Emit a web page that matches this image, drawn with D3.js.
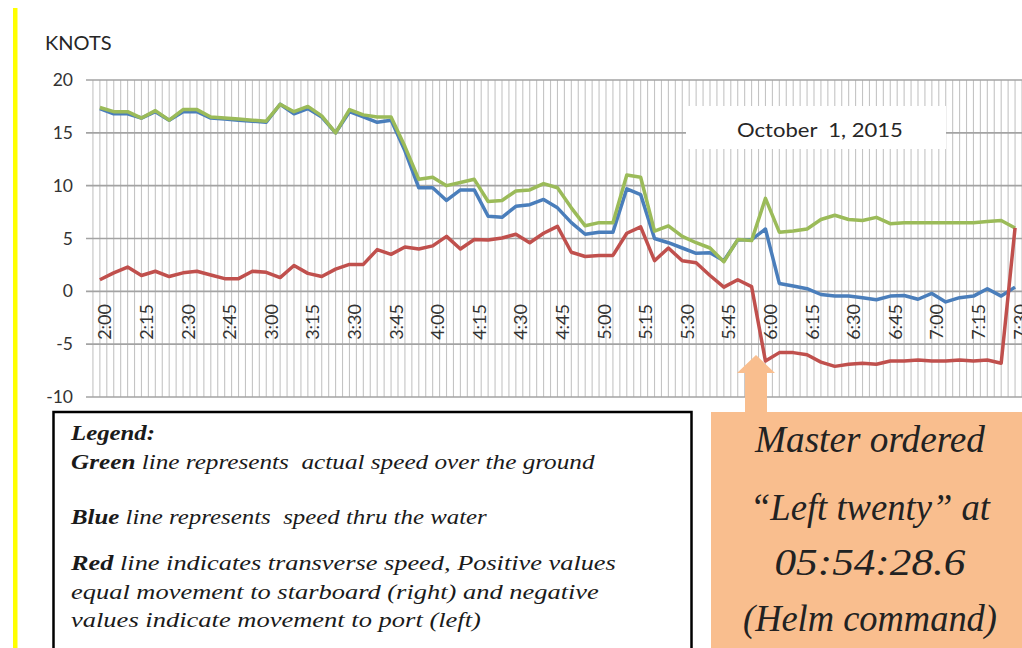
<!DOCTYPE html>
<html>
<head>
<meta charset="utf-8">
<script src="https://cdn.jsdelivr.net/npm/d3@7"></script>
<style>
  body { margin: 0; background: #fff; }
  svg { display: block; }
</style>
</head>
<body>
<div id="chart"></div>
<script>
// speed log chart, values read every 5 minutes

var times = ["2:00","2:05","2:10","2:15","2:20","2:25","2:30","2:35","2:40","2:45","2:50","2:55",
  "3:00","3:05","3:10","3:15","3:20","3:25","3:30","3:35","3:40","3:45","3:50","3:55",
  "4:00","4:05","4:10","4:15","4:20","4:25","4:30","4:35","4:40","4:45","4:50","4:55",
  "5:00","5:05","5:10","5:15","5:20","5:25","5:30","5:35","5:40","5:45","5:50","5:55",
  "6:00","6:05","6:10","6:15","6:20","6:25","6:30","6:35","6:40","6:45","6:50","6:55",
  "7:00","7:05","7:10","7:15","7:20","7:25","7:30"];

// speed over ground
var green = [17.4,17.0,17.0,16.4,17.1,16.2,17.2,17.2,16.5,16.4,
  16.3,16.2,16.1,17.7,17.0,17.5,16.6,15.0,17.2,16.7,
  16.5,16.5,13.7,10.6,10.8,10.0,10.3,10.6,8.5,8.6,
  9.5,9.6,10.2,9.8,7.9,6.2,6.5,6.5,11.0,10.8,
  5.7,6.2,5.2,4.6,4.1,2.8,4.9,4.8,8.8,5.6,
  5.7,5.9,6.8,7.2,6.8,6.7,7.0,6.4,6.5,6.5,
  6.5,6.5,6.5,6.5,6.6,6.7,6.0];

// speed thru water
var blue = [17.3,16.8,16.8,16.4,17.0,16.2,17.0,17.0,16.4,16.3,
  16.2,16.1,16.0,17.7,16.8,17.3,16.5,15.0,17.0,16.5,
  16.0,16.2,13.3,9.8,9.8,8.6,9.6,9.6,7.1,7.0,
  8.05,8.2,8.7,7.9,6.5,5.4,5.6,5.6,9.7,9.15,
  5.0,4.6,4.1,3.6,3.65,2.9,4.85,4.9,5.9,0.75,
  0.5,0.25,-0.3,-0.45,-0.45,-0.6,-0.8,-0.45,-0.4,-0.75,
  -0.2,-1.0,-0.6,-0.45,0.25,-0.45,0.4];

// transverse speed
var red = [1.1,1.75,2.3,1.5,1.9,1.4,1.75,1.9,1.55,1.2,
  1.2,1.9,1.8,1.3,2.45,1.7,1.4,2.1,2.55,2.55,
  3.95,3.5,4.2,4.0,4.3,5.2,4.0,4.9,4.85,5.05,
  5.4,4.6,5.5,6.15,3.7,3.3,3.4,3.4,5.5,6.1,
  2.9,4.1,2.9,2.7,1.5,0.4,1.1,0.45,-6.6,-5.8,
  -5.8,-6.0,-6.7,-7.1,-6.9,-6.8,-6.9,-6.6,-6.6,-6.5,
  -6.6,-6.6,-6.5,-6.6,-6.5,-6.8,6.0];

var yTicks = [-10, -5, 0, 5, 10, 15, 20];
var tickLabels = ["2:00","2:15","2:30","2:45","3:00","3:15","3:30","3:45","4:00","4:15","4:30","4:45",
  "5:00","5:15","5:30","5:45","6:00","6:15","6:30","6:45","7:00","7:15","7:30"];

var legendLines = [
  {bold: "Legend:", rest: "", y: 440, w: 84},
  {bold: "Green", rest: " line represents  actual speed over the ground", y: 469, w: 524},
  {bold: "Blue", rest: " line represents  speed thru the water", y: 524, w: 416},
  {bold: "Red", rest: " line indicates transverse speed, Positive values", y: 570, w: 545},
  {bold: "", rest: "equal movement to starboard (right) and negative", y: 599, w: 528},
  {bold: "", rest: "values indicate movement to port (left)", y: 627, w: 410}
];
var noteLines = [
  {t: "Master ordered", y: 452, w: 230},
  {t: "\u201CLeft twenty\u201D at", y: 520, w: 240},
  {t: "05:54:28.6", y: 575, w: 191},
  {t: "(Helm command)", y: 631, w: 254}
];

var width = 1022, height = 648;
var serif = "'Liberation Serif', Tinos, 'Times New Roman', serif";

function toMin(t) {
  var p = t.split(":");
  return (+p[0] - 2) * 60 + (+p[1]);
}

var svg = d3.select("#chart").append("svg")
    .attr("width", width)
    .attr("height", height);

// x in minutes after 2:00
var x = d3.scaleLinear()
    .domain([-5, 335])
    .range([86, 86 + 340 * 2.7733]);

var y = d3.scaleLinear()
    .domain([-10, 20])
    .range([397, 80]);

// yellow margin bar
svg.append("rect")
    .attr("x", 13).attr("y", 8)
    .attr("width", 4.5).attr("height", 640)
    .attr("fill", "#ffff00");

// vertical gridlines every 2.5 min
var vGrid = d3.range(-2.5, 336, 2.5);
svg.append("g")
  .selectAll("line")
  .data(vGrid)
  .enter().append("line")
    .attr("x1", function(d) { return x(d); })
    .attr("x2", function(d) { return x(d); })
    .attr("y1", y(20)).attr("y2", y(-10))
    .attr("stroke", "#c4c4c4")
    .attr("stroke-width", 1.1);

svg.append("g")
  .selectAll("line")
  .data(yTicks)
  .enter().append("line")
    .attr("x1", 86).attr("x2", width)
    .attr("y1", function(d) { return y(d); })
    .attr("y2", function(d) { return y(d); })
    .attr("stroke", "#a3a3a3")
    .attr("stroke-width", 1.6);

// y axis labels
var yAxis = svg.append("g")
    .attr("transform", "translate(86,0)")
    .call(d3.axisLeft(y).tickValues(yTicks).tickSize(0).tickPadding(13)
      .tickFormat(function(d) { return String(d); }));
yAxis.select(".domain").remove();
yAxis.selectAll("text")
    .attr("fill", "#333")
    .style("font-family", "Lato, 'Open Sans', sans-serif")
    .style("font-size", "17.5px");

svg.append("text")
    .attr("x", 45).attr("y", 50)
    .attr("fill", "#262626")
    .style("font-family", "Lato, 'Open Sans', sans-serif")
    .style("font-size", "20px")
    .text("KNOTS");

// rotated time labels below the zero line
svg.append("g")
  .selectAll("text")
  .data(tickLabels)
  .enter().append("text")
    .attr("transform", function(d) { return "translate(" + (x(toMin(d)) + 5) + "," + 304 + ") rotate(-90)"; })
    .attr("text-anchor", "end")
    .attr("dy", "0.36em")
    .attr("fill", "#333")
    .style("font-family", "Lato, 'Open Sans', sans-serif")
    .style("font-size", "18px")
    .text(function(d) { return d; });

// date label box
svg.append("rect")
    .attr("x", 686).attr("y", 106)
    .attr("width", 260).attr("height", 43)
    .attr("fill", "#fff");
var dateText = svg.append("text")
    .attr("xml:space", "preserve")
    .style("white-space", "pre")
    .attr("fill", "#262626")
    .style("font-family", "Lato, 'Open Sans', sans-serif")
    .style("font-size", "19.5px")
    .text("October  1, 2015");
fitText(dateText, 737, 137, 166);

// series lines
var line = d3.line()
    .x(function(d, i) { return x(toMin(times[i])); })
    .y(function(d) { return y(d); });

var series = [
  {values: blue, color: "#4a7ebb"},
  {values: green, color: "#9bbb59"},
  {values: red, color: "#c0504d"}
];
svg.append("g")
  .selectAll("path")
  .data(series)
  .enter().append("path")
    .attr("d", function(d) { return line(d.values); })
    .attr("fill", "none")
    .attr("stroke", function(d) { return d.color; })
    .attr("stroke-width", 3.5)
    .attr("stroke-linejoin", "round");

// legend box
svg.append("rect")
    .attr("x", 53.5).attr("y", 412)
    .attr("width", 638).attr("height", 260)
    .attr("fill", "#fff")
    .attr("stroke", "#000")
    .attr("stroke-width", 2.5);

legendLines.forEach(function(l) {
  var t = svg.append("text")
      .attr("xml:space", "preserve")
      .style("white-space", "pre")
      .attr("fill", "#1a1a1a")
      .style("font-family", serif)
      .style("font-style", "italic")
      .style("font-size", "21px");
  if (l.bold) t.append("tspan").style("font-weight", "bold").text(l.bold);
  if (l.rest) t.append("tspan").text(l.rest);
  fitText(t, 71, l.y, l.w);
});

// annotation box with arrow
var orange = "#f9be8e";
svg.append("rect")
    .attr("x", 711).attr("y", 412)
    .attr("width", 320).attr("height", 240)
    .attr("fill", orange);
svg.append("polygon")
    .attr("points", [[756,355],[775,373],[767,373],[767,413],[745,413],[745,373],[737,373]].join(" "))
    .attr("fill", orange);

noteLines.forEach(function(l) {
  var t = svg.append("text")
      .attr("fill", "#222")
      .style("font-family", serif)
      .style("font-style", "italic")
      .style("font-size", "37px")
      .text(l.t);
  fitText(t, 870 - l.w / 2, l.y, l.w);
});

// squeeze or stretch a text to a measured width
function fitText(sel, x0, y0, w) {
  var len = sel.node().getComputedTextLength();
  var k = len > 0 ? w / len : 1;
  sel.attr("transform", "translate(" + x0 + "," + y0 + ") scale(" + k + ",1)");
}
</script>
</body>
</html>
